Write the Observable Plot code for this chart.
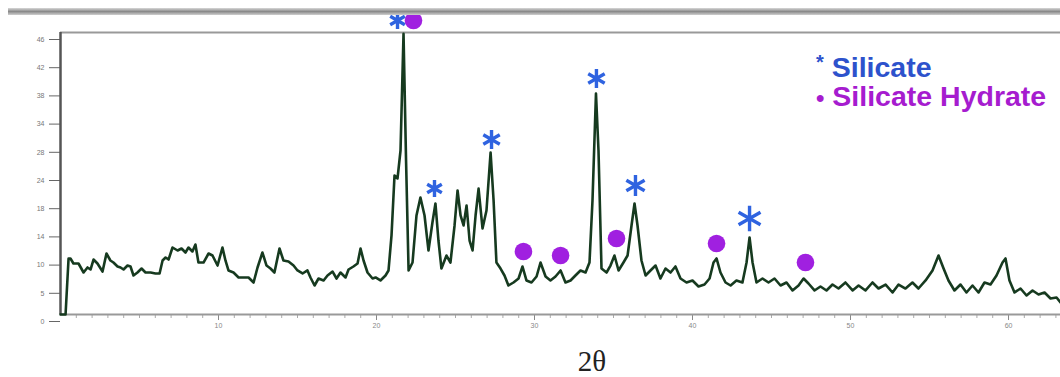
<!DOCTYPE html>
<html>
<head>
<meta charset="utf-8">
<script src="https://cdn.jsdelivr.net/npm/d3@7"></script>
<script src="https://cdn.jsdelivr.net/npm/@observablehq/plot@0.6"></script>
<style>
  html, body { margin: 0; padding: 0; background: #fff; }
  #wrap { position: relative; width: 1060px; height: 377px; overflow: hidden; }
  #band { position: absolute; left: 8px; top: 8px; width: 1052px; height: 7px;
          background: linear-gradient(#d8d8d8, #8a8a8a 50%, #cfcfcf); }
  .leg { position: absolute; left: 816px; font-family: "Liberation Sans", Arial, sans-serif;
         font-weight: bold; font-size: 28.5px; line-height: 34px; white-space: nowrap; }
  #xlabel { position: absolute; left: 562px; width: 60px; text-align: center; top: 347px;
            font-family: "Liberation Serif", "Times New Roman", serif; font-size: 29px; line-height: 29px; color: #222; }
</style>
</head>
<body>
<div id="wrap">
  <div id="chart"></div>
  <div id="band"></div>
  <div class="leg" style="top:45px;color:#2d52cc;"><span style="font-size:20px;vertical-align:8px;">*</span> Silicate</div>
  <div class="leg" style="top:79px;color:#a61ccf;"><span style="font-size:24px;">•</span> Silicate Hydrate</div>
  <div id="xlabel">2θ</div>
</div>
<script>
// XRD pattern: 2θ (degrees) vs intensity
const twoTheta = [0,0.32,0.51,0.63,0.82,1.14,1.46,1.71,1.90,2.09,2.34,2.66,2.91,3.16,3.35,3.61,3.80,3.99,4.24,4.43,4.62,4.87,5.13,5.38,5.70,6.01,6.27,6.46,6.65,6.84,7.09,7.41,7.66,7.91,8.10,8.35,8.54,8.73,9.05,9.37,9.62,9.94,10.25,10.44,10.63,10.95,11.27,11.71,11.90,12.22,12.47,12.78,13.04,13.29,13.54,13.86,14.11,14.43,14.75,15.00,15.32,15.63,15.82,16.08,16.33,16.65,16.90,17.22,17.47,17.72,18.04,18.23,18.54,18.80,18.99,19.18,19.43,19.75,19.94,20.25,20.57,20.76,20.95,21.14,21.33,21.52,21.71,21.87,22.03,22.28,22.53,22.78,23.04,23.29,23.54,23.73,23.92,24.11,24.43,24.68,24.94,25.13,25.32,25.51,25.70,25.89,26.08,26.27,26.46,26.71,26.96,27.22,27.41,27.59,27.85,28.10,28.35,28.67,28.99,29.24,29.49,29.81,30.13,30.38,30.70,31.01,31.33,31.65,31.96,32.28,32.59,32.91,33.23,33.48,33.67,33.89,34.05,34.24,34.56,34.81,35.06,35.32,35.63,35.89,36.14,36.33,36.52,36.77,37.03,37.34,37.66,37.97,38.29,38.61,38.92,39.24,39.62,40.00,40.38,40.76,41.08,41.33,41.52,41.77,42.09,42.41,42.78,43.16,43.42,43.61,43.80,44.05,44.43,44.81,45.19,45.57,45.95,46.33,46.71,47.03,47.34,47.72,48.10,48.48,48.86,49.24,49.68,50.13,50.51,50.95,51.39,51.77,52.22,52.66,53.04,53.48,53.92,54.30,54.75,55.19,55.57,55.89,56.20,56.58,56.96,57.34,57.72,58.10,58.48,58.86,59.24,59.62,59.81,60.06,60.38,60.76,61.14,61.52,61.90,62.28,62.66,63.04,63.29];
const intensity = [0,0,9.14,9.14,8.32,8.32,6.85,7.67,7.34,8.97,8.32,7.01,9.95,8.81,8.48,7.83,7.67,7.34,7.99,7.83,6.36,6.85,7.50,6.85,6.85,6.69,6.69,8.81,9.30,8.97,10.93,10.44,10.77,10.11,10.93,10.28,11.42,8.48,8.48,9.95,9.62,7.99,10.93,8.81,7.18,6.85,6.04,6.04,6.04,5.22,7.67,10.11,7.99,7.50,6.85,10.77,8.81,8.65,7.99,7.18,6.69,7.18,6.04,4.73,5.87,5.55,6.36,7.01,5.87,6.85,6.04,7.34,7.83,8.32,10.77,8.81,6.85,5.87,6.04,5.55,6.36,7.18,12.89,22.68,22.19,26.75,45.8,25.12,7.18,8.48,16.15,19.09,16.15,10.44,15.01,18.11,12.07,7.50,9.62,8.48,14.52,20.23,16.15,14.52,17.78,12.07,10.44,16.15,20.55,14.03,16.97,26.43,18.60,8.48,7.50,6.36,4.73,5.22,5.87,7.83,5.55,5.22,6.20,8.48,6.20,5.55,6.20,7.18,5.22,5.55,6.36,7.18,6.85,8.48,18.60,36.05,26.75,7.50,6.85,7.99,9.62,7.18,8.48,9.62,14.52,18.11,14.52,8.81,6.36,7.18,7.99,5.87,7.50,6.85,7.83,5.87,5.22,5.55,4.57,4.89,5.87,8.48,9.14,6.85,5.22,4.73,5.55,5.22,8.48,12.56,8.48,5.22,5.87,5.22,5.87,4.73,5.22,3.92,4.73,5.87,5.06,3.92,4.57,3.92,4.89,4.24,5.22,3.92,4.73,3.92,5.22,4.24,4.89,3.59,4.89,4.24,5.22,4.24,5.55,7.18,9.62,7.50,5.55,3.92,4.89,3.59,4.73,3.59,5.22,4.89,6.36,8.48,9.14,5.55,3.59,4.24,3.10,3.92,3.26,3.59,2.61,2.77,1.96];

// Peak markers
const silicateX = [21.33, 23.67, 27.28, 33.92, 36.39, 43.61];
const silicateY = [47.96, 20.55, 28.55, 38.50, 21.04, 15.66];
const silicateR = [8, 8, 9, 9, 10, 12];
const hydrateX = [22.34, 29.30, 31.65, 35.19, 41.52, 47.15];
const hydrateY = [47.96, 10.28, 9.62, 12.40, 11.58, 8.48];

// Axis ticks
const yTicks = [0, 4.6, 9.2, 13.8, 18.4, 23, 27.6, 32.2, 36.8, 41.4, 46];
const yTickLabels = ["0", "5", "10", "14", "18", "24", "28", "34", "38", "42", "46"];
const xMajor = [10, 20, 30, 40, 50, 60];
const xMinor = d3.range(1, 64, 1);

const pattern = twoTheta.map((t, i) => ({t, v: intensity[i]}));
const silicate = silicateX.map((x, i) => ({x, y: silicateY[i], r: silicateR[i]}));
const hydrate = hydrateX.map((x, i) => ({x, y: hydrateY[i]}));

const chart = Plot.plot({
  width: 1060,
  height: 340,
  marginLeft: 60,
  marginRight: 0,
  marginTop: 32,
  marginBottom: 26,
  style: {fontFamily: "Liberation Sans, Arial, sans-serif", background: "transparent"},
  x: {domain: [0, 63.29], axis: null},
  y: {domain: [0, 46], axis: null},
  r: {type: "identity"},
  marks: [
    Plot.axisX({ticks: xMinor, tickSize: 4, tickFormat: () => "", stroke: "#aaa", label: null}),
    Plot.axisX({ticks: xMajor, tickSize: 6, tickPadding: 3, fontSize: 7, fill: "#888", stroke: "#888", label: null, tickFormat: d => String(d)}),
    Plot.axisY({ticks: yTicks, tickSize: 11, tickPadding: 5, fontSize: 7, fill: "#777", stroke: "#666",
                tickFormat: (d, i) => yTickLabels[i], dy: 7, label: null}),
    Plot.ruleY([46], {stroke: "#999", strokeWidth: 2}),
    Plot.ruleY([0], {stroke: "#999", strokeWidth: 2}),
    Plot.ruleX([0], {stroke: "#555", strokeWidth: 2.5}),
    Plot.line(pattern, {x: "t", y: "v", stroke: "#163a1f", strokeWidth: 2.6, strokeLinejoin: "round"}),
    Plot.dot(silicate, {x: "x", y: "y", r: "r", symbol: "asterisk", stroke: "#2f63e0", strokeWidth: 3.4}),
    Plot.dot(hydrate, {x: "x", y: "y", r: 8.8, fill: "#a020e0", stroke: "none"})
  ]
});
chart.style.display = "block";
document.getElementById("chart").appendChild(chart);
</script>
</body>
</html>
